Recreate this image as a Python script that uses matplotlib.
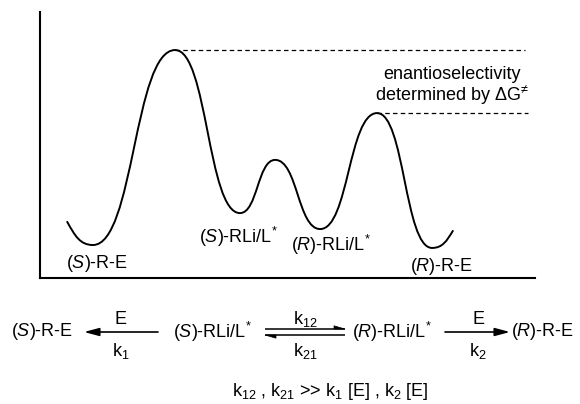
import matplotlib
matplotlib.use("Agg")
import matplotlib.pyplot as plt
from matplotlib.path import Path
from matplotlib.patches import PathPatch

plt.rcParams['font.family'] = ['Liberation Sans', 'DejaVu Sans']
plt.rcParams['mathtext.fontset'] = 'custom'
plt.rcParams['mathtext.rm'] = 'Liberation Sans'
plt.rcParams['mathtext.it'] = 'Liberation Sans:italic'
plt.rcParams['mathtext.bf'] = 'Liberation Sans:bold'

# ---- data: energy profile (reaction coordinate, relative free energy) ----
profile_x = [5.5, 10.7, 27.3, 40.4, 47.5, 56.6, 68.1, 79.2, 83.4]
profile_y = [21.1, 12.4, 85.7, 24.4, 44.4, 18.4, 62.0, 11.3, 17.7]
state_labels = ["($\\mathit{S}$)-R-E", "($\\mathit{S}$)-RLi/L$^{*}$",
                "($\\mathit{R}$)-RLi/L$^{*}$", "($\\mathit{R}$)-R-E"]
state_index = [1, 3, 5, 7]
ts_index = [2, 6]              # transition states compared by ΔG‡
annotation_lines = ["enantioselectivity", "determined by \u0394G$^{\u2260}$"]

# scheme text
scheme_species = ["($\\mathit{S}$)-R-E", "($\\mathit{S}$)-RLi/L$^{*}$",
                  "($\\mathit{R}$)-RLi/L$^{*}$", "($\\mathit{R}$)-R-E"]
scheme_above = ["E", "k$_{12}$", "E"]
scheme_below = ["k$_{1}$", "k$_{21}$", "k$_{2}$"]
condition = "k$_{12}$ , k$_{21}$ >> k$_{1}$ [E] , k$_{2}$ [E]"

# ---- layout ----
W, H = 580, 404
fig = plt.figure(figsize=(W / 100, H / 100), dpi=100)
ov = fig.add_axes([0, 0, 1, 1])
ov.set_xlim(0, W)
ov.set_ylim(H, 0)
ov.axis('off')

L, R, T, B = 40, 535, 12, 278
ax = fig.add_axes([L / W, (H - B) / H, (R - L) / W, (B - T) / H])
ax.set_xlim(0, 100)
ax.set_ylim(0, 100)
ax.set_xticks([])
ax.set_yticks([])
for s in ['top', 'right']:
    ax.spines[s].set_visible(False)
for s in ['left', 'bottom']:
    ax.spines[s].set_linewidth(1.5)
ax.patch.set_alpha(0)

# smooth curve with cubic Beziers through the extrema
verts = [(profile_x[0], profile_y[0])]
codes = [Path.MOVETO]
n = len(profile_x)
for i in range(n - 1):
    xa, ya = profile_x[i], profile_y[i]
    xb, yb = profile_x[i + 1], profile_y[i + 1]
    dx = xb - xa
    if i == 0:
        c1 = (xa + 0.3 * dx, ya + 0.6 * (yb - ya))
    else:
        c1 = (xa + 0.5 * dx, ya)
    if i == n - 2:
        c2 = (xb - 0.3 * dx, yb - 0.6 * (yb - ya))
    else:
        c2 = (xb - 0.5 * dx, yb)
    verts += [c1, c2, (xb, yb)]
    codes += [Path.CURVE4] * 3
ax.add_patch(PathPatch(Path(verts, codes), fill=False, lw=1.4,
                       edgecolor='black', capstyle='round'))

# dashed reference lines at the two competing transition states
dash_ends = [98.0, 98.6]
for k, ti in enumerate(ts_index):
    ax.plot([profile_x[ti], dash_ends[k]], [profile_y[ti], profile_y[ti]],
            color='black', lw=0.9, linestyle=(0, (3.6, 2.6)))

fs = 13
ax.text(83.3, 76.5, annotation_lines[0], ha='center', va='center', fontsize=fs)
ax.text(83.3, 68.8, annotation_lines[1], ha='center', va='center', fontsize=fs)

label_pos = [(11.5, 5.6), (40.0, 15.5), (58.7, 12.4), (81.2, 4.2)]
for lab, (lx, ly) in zip(state_labels, label_pos):
    ax.text(lx, ly, lab, ha='center', va='center', fontsize=fs)

# ---- kinetic scheme (pixel coordinates on the overlay) ----
row_y = 332
species_x = [42, 212, 392, 543]
for sp, sx in zip(scheme_species, species_x):
    ov.text(sx, row_y, sp, ha='center', va='center', fontsize=fs)

arrow_style = dict(arrowstyle='-|>,head_length=0.75,head_width=0.2',
                   lw=1.2, color='black', shrinkA=0, shrinkB=0,
                   mutation_scale=12)
ov.annotate('', xy=(84, row_y), xytext=(158, row_y), arrowprops=arrow_style)
ov.annotate('', xy=(510, row_y), xytext=(445, row_y), arrowprops=arrow_style)

# equilibrium harpoons
x0, x1 = 265, 345
yt, yb = 329, 335
ov.plot([x0, x1], [yt, yt], color='black', lw=1.1, solid_capstyle='butt')
ov.fill([x1, x1 - 11, x1 - 11], [yt, yt - 3.2, yt], color='black', lw=0.5)
ov.plot([x0, x1], [yb, yb], color='black', lw=1.1, solid_capstyle='butt')
ov.fill([x0, x0 + 11, x0 + 11], [yb, yb + 3.2, yb], color='black', lw=0.5)

arrow_mid = [121, 305, 478]
for t, mx in zip(scheme_above, arrow_mid):
    ov.text(mx, 319, t, ha='center', va='center', fontsize=fs)
for t, mx in zip(scheme_below, arrow_mid):
    ov.text(mx, 351, t, ha='center', va='center', fontsize=fs)

ov.text(330, 392, condition, ha='center', va='center', fontsize=fs)

fig.savefig('out.png', dpi=100)
